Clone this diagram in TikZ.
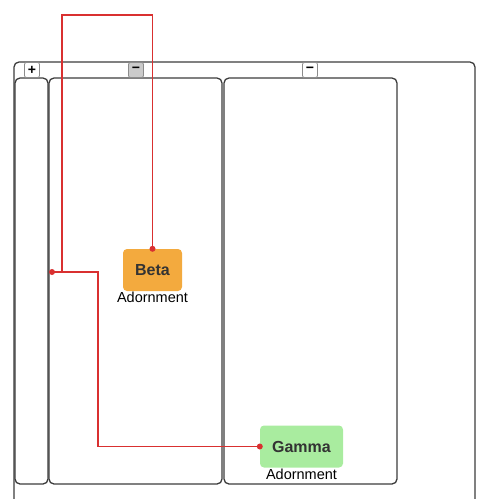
\documentclass[tikz,border=0pt]{standalone}
\usepackage{fontspec}
\setmainfont{Liberation Sans}
\usetikzlibrary{positioning}
\definecolor{laneGrey}{HTML}{3C3C3C}
\definecolor{btnGrey}{HTML}{8C8C8C}
\definecolor{textGrey}{HTML}{333333}
\definecolor{linkRed}{HTML}{D93030}
\definecolor{betaOrange}{HTML}{F3AA3E}
\definecolor{gammaGreen}{HTML}{A9EC9F}
\begin{document}
\begin{tikzpicture}[x=1pt,y=-1pt,
  lane/.style={draw=laneGrey, line width=1.3pt, rounded corners=5pt},
  toggle/.style={draw=btnGrey, line width=0.8pt, fill=white, rounded corners=2pt, minimum width=15pt, minimum height=15pt, inner sep=0pt, font=\bfseries\fontsize{14}{14}\selectfont},
  block/.style={rounded corners=4pt, minimum height=42pt, inner sep=0pt, font=\bfseries\fontsize{16}{18}\selectfont, text=textGrey},
  caption/.style={font=\fontsize{14.5}{16}\selectfont, inner sep=0pt},
  link/.style={draw=linkRed, line width=1.2pt},
  dot/.style={circle, fill=linkRed, inner sep=0pt, minimum size=6pt}
]
    \useasboundingbox (0,0) rectangle (484,499);
    % container and lanes
    \draw [lane] (14,499) -- (14,62) -- (475,62) -- (475,499);
    \draw [lane] (15,78) rectangle (48,484);
    \draw [lane] (49,78) rectangle (222,484);
    \draw [lane] (224,78) rectangle (397,484);

    \node [toggle] (expandA) at (32,70) {+};
    \node [toggle, fill=btnGrey!45] (collapseB) at (136,70) {−};
    \node [toggle] (collapseC) at (310,70) {−};

    \node [block, fill=betaOrange, minimum width=59pt] (beta) at (152.5,270) {Beta};
    \node [caption, below=1pt of beta] (betaNote) {Adornment};
    \node [block, fill=gammaGreen, minimum width=83pt] (gamma) at (301.5,446.5) {Gamma};
    \node [caption, below=1pt of gamma] (gammaNote) {Adornment};

    \coordinate (laneIn) at (52,272);
    \path [link] (beta.north) |- (62,15) -- (62,272) -- (laneIn);
    \path [link] (laneIn) -- (98,272) |- (gamma.west);

    \node [dot] (betaDot) at (beta.north) {};
    \node [dot] (laneDot) at (laneIn) {};
    \node [dot] (gammaDot) at (gamma.west) {};
\end{tikzpicture}
\end{document}
